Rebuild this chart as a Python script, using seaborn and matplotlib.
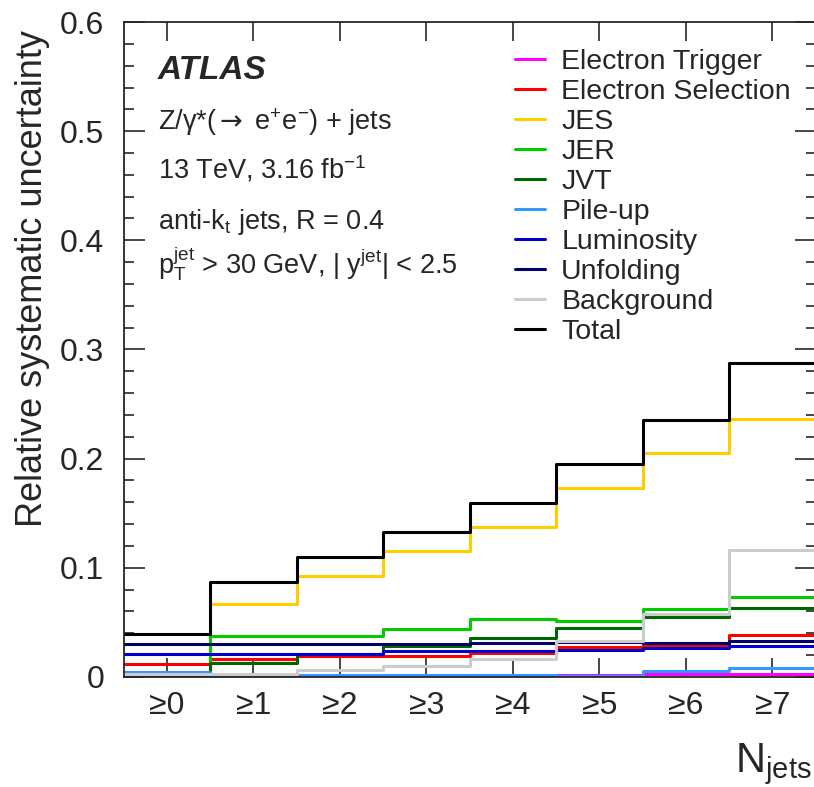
import numpy as np
import pandas as pd
import matplotlib
matplotlib.use("Agg")
import matplotlib.pyplot as plt
import seaborn as sns

# Jet multiplicity bins
categories = ["≥0", "≥1", "≥2", "≥3", "≥4", "≥5", "≥6", "≥7"]

# Relative systematic uncertainty per source
electron_trigger = [0.001, 0.001, 0.001, 0.001, 0.001, 0.002, 0.003, 0.003]
electron_selection = [0.012, 0.016, 0.019, 0.019, 0.022, 0.027, 0.029, 0.038]
jes = [0.002, 0.067, 0.092, 0.115, 0.137, 0.173, 0.205, 0.236]
jer = [0.001, 0.037, 0.037, 0.044, 0.053, 0.051, 0.062, 0.073]
jvt = [0.001, 0.013, 0.021, 0.028, 0.036, 0.045, 0.055, 0.063]
pile_up = [0.004, 0.002, 0.002, 0.002, 0.002, 0.001, 0.005, 0.008]
luminosity = [0.021, 0.021, 0.021, 0.024, 0.024, 0.025, 0.026, 0.028]
unfolding = [0.030, 0.030, 0.030, 0.030, 0.031, 0.032, 0.031, 0.033]
background = [0.003, 0.003, 0.006, 0.010, 0.016, 0.033, 0.058, 0.116]
total = [0.039, 0.087, 0.110, 0.133, 0.159, 0.195, 0.235, 0.288]

sources = {
    "Electron Trigger": electron_trigger,
    "Electron Selection": electron_selection,
    "JES": jes,
    "JER": jer,
    "JVT": jvt,
    "Pile-up": pile_up,
    "Luminosity": luminosity,
    "Unfolding": unfolding,
    "Background": background,
    "Total": total,
}
colors = {
    "Electron Trigger": "#ff00ff",
    "Electron Selection": "#ff0000",
    "JES": "#ffcc00",
    "JER": "#00cc00",
    "JVT": "#006600",
    "Pile-up": "#3399ff",
    "Luminosity": "#0000cc",
    "Unfolding": "#000066",
    "Background": "#cccccc",
    "Total": "#000000",
}

# long table of step edges (last value repeated for steps-post)
edges = np.arange(len(categories) + 1) - 0.5
rows = []
for name, vals in sources.items():
    for x, v in zip(edges, list(vals) + [vals[-1]]):
        rows.append({"x": x, "y": v, "source": name})
df = pd.DataFrame(rows)

sns.set_style("ticks")
plt.rcParams["font.family"] = ["Liberation Sans", "DejaVu Sans"]
plt.rcParams["mathtext.fontset"] = "custom"
plt.rcParams["mathtext.rm"] = "Liberation Sans"
plt.rcParams["mathtext.it"] = "Liberation Sans:italic"
plt.rcParams["mathtext.sf"] = "DejaVu Sans"
plt.rcParams["mathtext.default"] = "regular"

fig = plt.figure(figsize=(8.14, 7.87), dpi=100)
ax = fig.add_axes([0.152, 0.140, 0.850, 0.832])

sns.lineplot(data=df, x="x", y="y", hue="source", hue_order=list(sources),
             palette=colors, estimator=None, sort=False, drawstyle="steps-post",
             linewidth=2.2, ax=ax, legend=False)

ax.set_xlim(edges[0], edges[-1])
ax.set_ylim(0, 0.6)
ax.set_xticks(np.arange(len(categories)))
ax.set_xticklabels(categories)
ax.set_yticks(np.arange(0, 0.61, 0.1))
ax.set_yticklabels(["0", "0.1", "0.2", "0.3", "0.4", "0.5", "0.6"])
ax.set_yticks(np.arange(0, 0.601, 0.02), minor=True)
ax.tick_params(axis="both", which="both", direction="in", top=True, right=True,
               labelsize=23, width=1.2)
ax.tick_params(axis="y", which="major", length=15, pad=14)
ax.tick_params(axis="y", which="minor", length=7)
ax.tick_params(axis="x", which="major", length=14, pad=10)
for s in ax.spines.values():
    s.set_linewidth(1.3)

ax.set_ylabel("Relative systematic uncertainty", fontsize=26, loc="top")
ax.yaxis.set_label_coords(-0.106, 0.988)
ax.set_xlabel("N$_{jets}$", fontsize=30, loc="right")
ax.xaxis.set_label_coords(0.995, -0.098)

# annotations
tx = 0.049
ax.text(tx, 0.926, "ATLAS", transform=ax.transAxes, fontsize=24,
        fontweight="bold", fontstyle="italic", va="center")
ax.text(tx, 0.847, r"Z/γ*($\mathsf{\rightarrow}$ e$^{+}$e$^{-}$) + jets",
        transform=ax.transAxes, fontsize=19.5, va="center")
ax.text(tx, 0.776, "13 TeV, 3.16 fb$^{-1}$", transform=ax.transAxes,
        fontsize=19.5, va="center")
ax.text(tx, 0.695, "anti-k$_{t}$ jets, R = 0.4", transform=ax.transAxes,
        fontsize=19.5, va="center")
ax.text(tx, 0.631, "p$_{T}^{jet}$ > 30 GeV, | y$^{jet}$| < 2.5",
        transform=ax.transAxes, fontsize=19.5, va="center")

handles = [plt.Line2D([], [], color=colors[n], linewidth=2.2) for n in sources]
ax.legend(handles, list(sources), loc="upper left", bbox_to_anchor=(0.566, 0.959),
          frameon=False, fontsize=20.5, handlelength=1.05, handletextpad=0.56,
          labelspacing=0.14, borderpad=0, borderaxespad=0)

fig.savefig("out.png", dpi=100)
